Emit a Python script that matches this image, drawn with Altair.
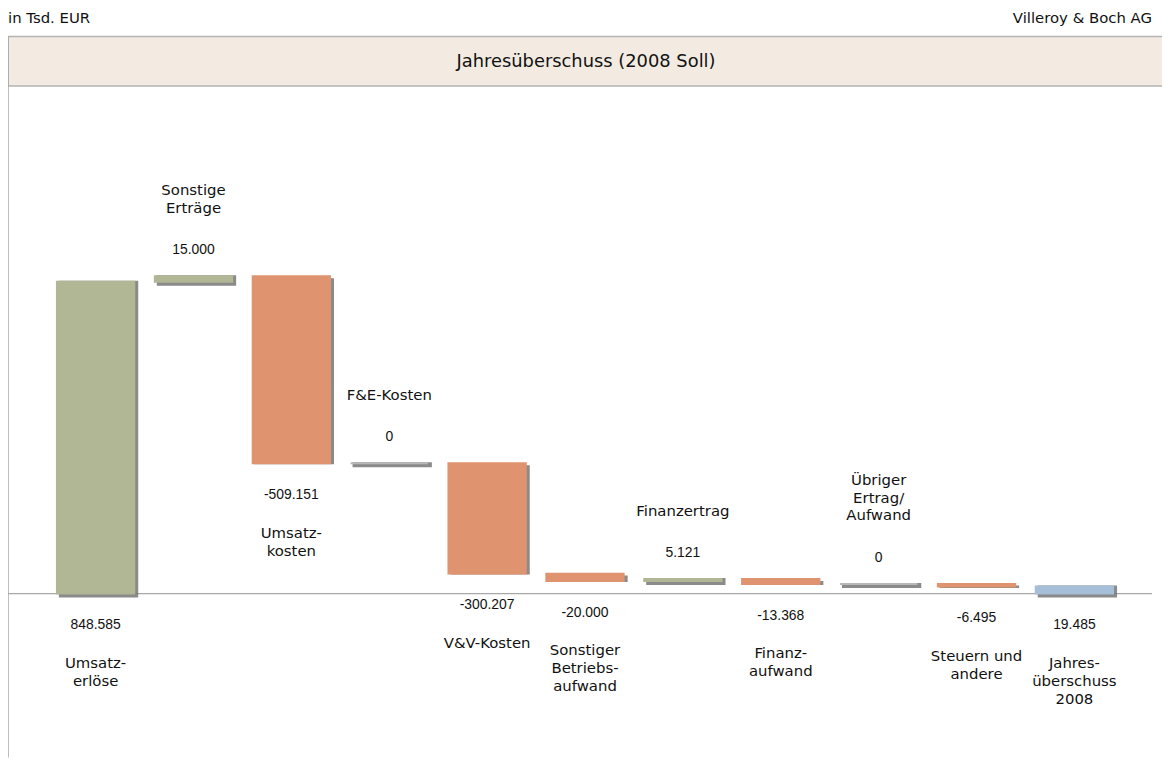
import altair as alt
import pandas as pd

# ---- data (Tsd. EUR) ----
keys = ["Umsatzerlöse", "Sonstige Erträge", "Umsatzkosten", "F&E-Kosten", "V&V-Kosten",
        "Sonstiger Betriebsaufwand", "Finanzertrag", "Finanzaufwand",
        "Übriger Ertrag/Aufwand", "Steuern und andere", "Jahresüberschuss 2008"]
labels = ["Umsatz-\nerlöse", "Sonstige\nErträge", "Umsatz-\nkosten", "F&E-Kosten", "V&V-Kosten",
          "Sonstiger\nBetriebs-\naufwand", "Finanzertrag", "Finanz-\naufwand",
          "Übriger\nErtrag/\nAufwand", "Steuern und\nandere", "Jahres-\nüberschuss\n2008"]
values = [848585, 15000, -509151, 0, -300207, -20000, 5121, -13368, 0, -6495, 19485]
kinds = ["start", "delta", "delta", "delta", "delta", "delta", "delta", "delta", "delta", "delta", "total"]

LINE_H = 18
rows = []
running = 0
for k, lab, v, kind in zip(keys, labels, values, kinds):
    if kind == "delta":
        start, end = running, running + v
        running = end
        cat = "pos" if v > 0 else ("neg" if v < 0 else "zero")
        pos = "below" if v < 0 else "above"
    else:
        start, end = 0, v
        running = v
        cat = kind
        pos = "below"
    vl = f"{v:,}".replace(",", ".")
    rows.append(dict(key=k, label=lab, vlabel=vl, start=start, end=end,
                     top=max(start, end), bottom=min(start, end), cat=cat, pos=pos,
                     nlines=lab.count("\n") + 1))
df = pd.DataFrame(rows)

W, H = 1162, 726
px_per_unit = 314 / 848585
y_top = 561 / px_per_unit
y_bot = -(H - 561) / px_per_unit
yscale = alt.Scale(domain=[y_bot, y_top], nice=False, zero=False)
xenc = alt.X("key:N", sort=keys, axis=None,
             scale=alt.Scale(paddingInner=0.21, paddingOuter=0.5))

color_scale = alt.Scale(domain=["start", "pos", "neg", "zero", "total"],
                        range=["#B1B794", "#B1B794", "#E0936F", "#B8B8B8", "#A6BFD8"])

base = alt.Chart(df)

shadow = base.mark_bar(xOffset=3, yOffset=3, color="#777777", stroke="#777777",
                       strokeWidth=2, opacity=0.85).encode(
    x=xenc, y=alt.Y("start:Q", scale=yscale, axis=None), y2="end:Q")

bars = base.mark_bar(strokeWidth=2).encode(
    x=xenc, y=alt.Y("start:Q", scale=yscale, axis=None), y2="end:Q",
    color=alt.Color("cat:N", scale=color_scale, legend=None),
    stroke=alt.Stroke("cat:N", scale=color_scale, legend=None))

val_font = "Liberation Sans"
name_font = "DejaVu Sans"
NAME_SIZE = 15

val_above = base.transform_filter("datum.pos == 'above'").mark_text(
    font=val_font, fontSize=14, dy=-26, baseline="middle", color="#111").encode(
    x=xenc, y=alt.Y("top:Q", scale=yscale, axis=None), text="vlabel:N")
val_below = base.transform_filter("datum.pos == 'below'").mark_text(
    font=val_font, fontSize=14, dy=32, baseline="middle", color="#111").encode(
    x=xenc, y=alt.Y("bottom:Q", scale=yscale, axis=None), text="vlabel:N")

name_above_layers = []
for n in (1, 2, 3):
    name_above_layers.append(
        base.transform_filter(f"datum.pos == 'above' && datum.nlines == {n}").mark_text(
            font=name_font, fontSize=NAME_SIZE, dy=-61 - (n - 1) * LINE_H, baseline="bottom",
            lineBreak="\n", lineHeight=LINE_H, color="#111").encode(
            x=xenc, y=alt.Y("top:Q", scale=yscale, axis=None), text="label:N"))

name_below = base.transform_filter("datum.pos == 'below'").mark_text(
    font=name_font, fontSize=NAME_SIZE, dy=63, baseline="top", lineBreak="\n",
    lineHeight=LINE_H, color="#111").encode(
    x=xenc, y=alt.Y("bottom:Q", scale=yscale, axis=None), text="label:N")

one = alt.Chart(pd.DataFrame({"z": [0]}))
header = one.mark_rect(fill="#F3EBE1", stroke="#B4B4B4", strokeWidth=1.5).encode(
    x=alt.value(0), x2=alt.value(W + 10), y=alt.value(0), y2=alt.value(50))
title = one.mark_text(font=name_font, fontSize=18, color="#111").encode(
    x=alt.value(582), y=alt.value(26), text=alt.value("Jahresüberschuss (2008 Soll)"))
left_txt = one.mark_text(font=name_font, fontSize=15, align="left", color="#111").encode(
    x=alt.value(0), y=alt.value(-19), text=alt.value("in Tsd. EUR"))
right_txt = one.mark_text(font=name_font, fontSize=15, align="right", color="#111").encode(
    x=alt.value(1152), y=alt.value(-19), text=alt.value("Villeroy & Boch AG"))
left_border = one.mark_rule(color="#A8A8A8", strokeWidth=1.5).encode(
    x=alt.value(0), y=alt.value(0), y2=alt.value(H))
zero_line = one.mark_rule(color="#A8A8A8", strokeWidth=1.2).encode(
    x=alt.value(0), x2=alt.value(1152), y=alt.Y("z:Q", scale=yscale, axis=None))

chart = alt.layer(
    header, title, left_txt, right_txt, left_border, zero_line,
    shadow, bars, val_above, val_below, *name_above_layers, name_below
).properties(
    width=W, height=H,
    autosize=alt.AutoSizeParams(type="none"),
    padding={"top": 26, "left": 0, "right": 0, "bottom": 0},
).configure_view(stroke=None)

chart.save("out.html", embed_options={"renderer": "svg", "actions": False})
